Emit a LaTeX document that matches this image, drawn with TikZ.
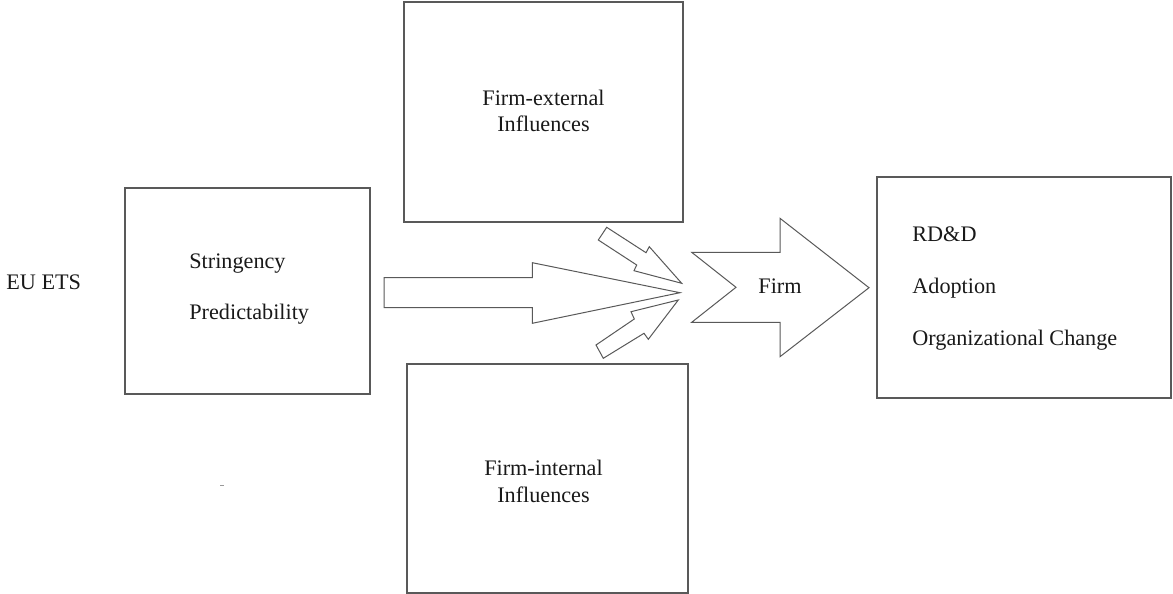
\documentclass[tikz,border=0pt]{standalone}
\usepackage{fontspec}
\setmainfont{Liberation Serif}
\usepackage{tikz}
\usetikzlibrary{positioning,calc}

\begin{document}
\begin{tikzpicture}[
    x=0.5pt, y=-0.5pt,
    box/.style={rectangle, draw=black!65, line width=0.6pt, inner sep=0pt},
    txt/.style={font=\fontsize{11.1}{13.3}\selectfont, text=black!90, inner sep=0pt},
    blockarrow/.style={draw=black!65, line width=0.5pt, line join=miter, fill=white}
]
    \useasboundingbox (0,0) rectangle (1173,594);

    % boxes
    \node[box, minimum width=122.5pt, minimum height=103pt] (policy) at (247.5,291) {};
    \node[box, minimum width=139.5pt, minimum height=110pt] (external) at (543.5,112) {};
    \node[box, minimum width=140.5pt, minimum height=114.5pt] (internal) at (547.5,478.5) {};
    \node[box, minimum width=147pt, minimum height=110.5pt] (result) at (1024,287.5) {};

    % texts
    \node[txt, anchor=base west] (ets) at (6,289) {EU ETS};
    \node[txt, anchor=base west] (stringency) at (189,268) {Stringency};
    \node[txt, anchor=base west] (predict) at (189,319.3) {Predictability};
    \node[txt, align=center] (exttext) at (543.5,111) {Firm-external\\Influences};
    \node[txt, align=center] (inttext) at (543.5,481.5) {Firm-internal\\Influences};
    \foreach \y/\item [count=\i] in {241/RD\&D, 293.3/Adoption, 345/Organizational Change}
        \node[txt, anchor=base west] (res\i) at (912,\y) {\item};

    % block arrows
    \draw[blockarrow] (384,277.7) -- (532.3,277.7) -- (532.3,262.7) -- (680,292.7)
        -- (532.3,323.3) -- (532.3,307.7) -- (384,307.7) -- cycle;
    \draw[blockarrow] (606.7,227.3) -- (646,252.7) -- (649.3,246.7) -- (681.7,283.3)
        -- (634,270.7) -- (636.7,265) -- (598.3,240) -- cycle;
    \draw[blockarrow] (596,345) -- (634.3,319) -- (631,311.7) -- (678.3,300)
        -- (648.3,339.3) -- (644,333.3) -- (603.3,358.3) -- cycle;
    \draw[blockarrow] (691.7,252.3) -- (780,252.3) -- (780,218.3) -- (869,287.7)
        -- (780,356.7) -- (780,322.3) -- (691.7,322.3) -- (736,287.3) -- cycle;
    \node[txt, anchor=base] (firm) at (780,293.3) {Firm};

    \draw[black!40, line width=0.4pt] (220,485.5) -- (224,485.5);
\end{tikzpicture}
\end{document}
